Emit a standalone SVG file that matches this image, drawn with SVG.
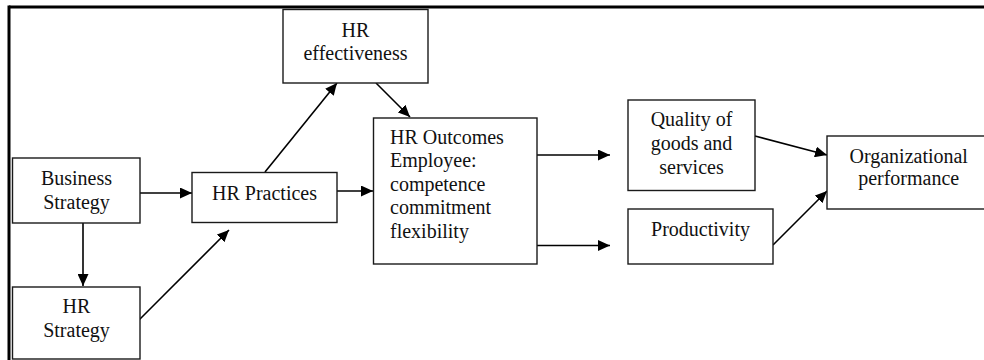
<svg xmlns="http://www.w3.org/2000/svg" width="984" height="360" viewBox="0 0 984 360">
<defs>
<marker id="ah" markerUnits="userSpaceOnUse" markerWidth="12" markerHeight="11" refX="12" refY="5.5" orient="auto">
<path d="M0,0 L12,5.5 L0,11 z" fill="#000"/>
</marker>
<style>
.box{fill:#fff;stroke:#1a1a1a;stroke-width:1.4}
.t{font-family:"Liberation Serif","Times New Roman",serif;font-size:20px;fill:#111}
.c{text-anchor:middle}
.ln{stroke:#000;stroke-width:1.6;fill:none;marker-end:url(#ah)}
.frame{stroke:#000;fill:none}
</style>
</defs>
<rect width="984" height="360" fill="#fff"/>
<g id="frame">
<line class="frame" x1="9" y1="7" x2="984" y2="7" stroke-width="3"/>
<line class="frame" x1="9" y1="5.5" x2="9" y2="360" stroke-width="3"/>
</g>
<g id="connectors">
<line class="ln" x1="140" y1="193" x2="192" y2="193"/>
<line class="ln" x1="337" y1="191" x2="373" y2="191"/>
<line class="ln" x1="83" y1="223" x2="83" y2="286"/>
<line class="ln" x1="139" y1="320" x2="229" y2="230"/>
<line class="ln" x1="265" y1="172" x2="337" y2="83"/>
<line class="ln" x1="376" y1="83" x2="410" y2="117"/>
<line class="ln" x1="537" y1="155" x2="610" y2="155"/>
<line class="ln" x1="537" y1="245.5" x2="610" y2="245.5"/>
<line class="ln" x1="755" y1="136" x2="827" y2="155"/>
<line class="ln" x1="773" y1="245" x2="827" y2="191"/>
</g>
<g id="hr-effectiveness">
<rect class="box" x="283" y="9.5" width="145" height="73.5"/>
<text class="t c" x="355.5" y="37">HR</text>
<text class="t c" x="355.5" y="60">effectiveness</text>
</g>
<g id="business-strategy">
<rect class="box" x="12.5" y="158" width="127.5" height="65"/>
<text class="t c" x="76.5" y="185">Business</text>
<text class="t c" x="76.5" y="209">Strategy</text>
</g>
<g id="hr-strategy">
<rect class="box" x="12.5" y="287" width="127.5" height="72"/>
<text class="t c" x="76.5" y="313">HR</text>
<text class="t c" x="76.5" y="337">Strategy</text>
</g>
<g id="hr-practices">
<rect class="box" x="192" y="172.5" width="145" height="50"/>
<text class="t c" x="264.5" y="200">HR Practices</text>
</g>
<g id="hr-outcomes">
<rect class="box" x="373.5" y="118" width="163.5" height="146"/>
<text class="t" x="390" y="143.5">HR Outcomes</text>
<text class="t" x="390" y="167">Employee:</text>
<text class="t" x="390" y="190.7">competence</text>
<text class="t" x="390" y="214.3">commitment</text>
<text class="t" x="390" y="238">flexibility</text>
</g>
<g id="quality">
<rect class="box" x="628" y="100" width="127" height="90.5"/>
<text class="t c" x="691.5" y="126">Quality of</text>
<text class="t c" x="691.5" y="150">goods and</text>
<text class="t c" x="691.5" y="173.5">services</text>
</g>
<g id="productivity">
<rect class="box" x="628" y="209" width="145" height="55"/>
<text class="t c" x="700.5" y="236">Productivity</text>
</g>
<g id="org-performance">
<rect class="box" x="827" y="136" width="163" height="73"/>
<text class="t c" x="908.7" y="163.3">Organizational</text>
<text class="t c" x="908.7" y="185">performance</text>
</g>
</svg>
